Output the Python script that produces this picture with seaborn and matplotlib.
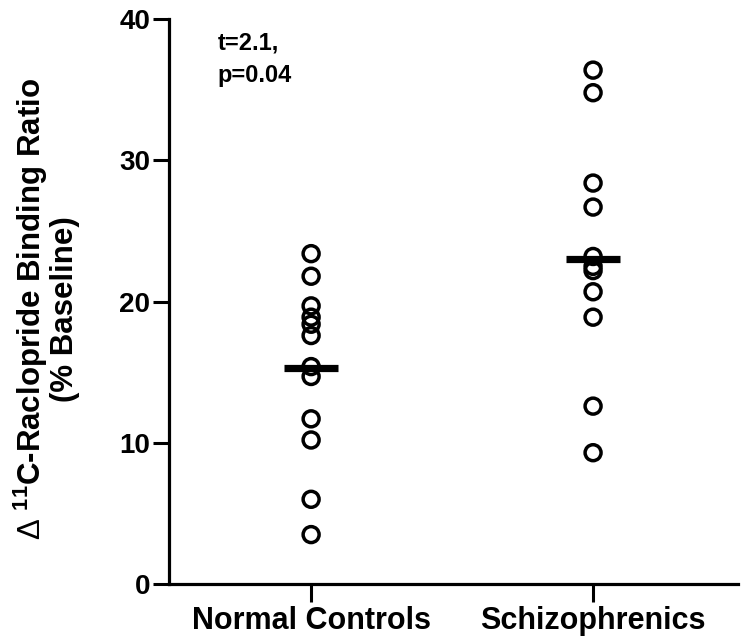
import matplotlib
matplotlib.use("Agg")
import matplotlib.pyplot as plt
import seaborn as sns
import pandas as pd

# ---- data ----
groups = ["Normal Controls", "Schizophrenics"]
normal_values = [23.4, 21.8, 19.7, 18.9, 18.4, 17.6, 15.4, 14.7, 11.7, 10.2, 6.0, 3.5]
schizo_values = [36.4, 34.8, 28.4, 26.7, 23.2, 22.5, 22.2, 20.7, 18.9, 12.6, 9.3]
group_means = [15.3, 23.0]
y_ticks = [0, 10, 20, 30, 40]
stat_lines = ["t=2.1,", "p=0.04"]
ylabel_lines = [r"$\Delta$ $^{\mathbf{11}}$C-Raclopride Binding Ratio", "(% Baseline)"]

df = pd.DataFrame({
    "group": [groups[0]] * len(normal_values) + [groups[1]] * len(schizo_values),
    "value": normal_values + schizo_values,
})

sns.set_style("ticks")
plt.rcParams["font.family"] = ["Liberation Sans", "DejaVu Sans"]
plt.rcParams["text.color"] = "black"
plt.rcParams["axes.labelcolor"] = "black"
plt.rcParams["mathtext.fontset"] = "custom"
plt.rcParams["mathtext.rm"] = "Liberation Sans"
plt.rcParams["mathtext.bf"] = "Liberation Sans:bold"
plt.rcParams["mathtext.it"] = "Liberation Sans:italic"

fig = plt.figure(figsize=(7.41, 6.39), dpi=100)
ax = fig.add_axes([169 / 741, 1 - 584 / 639, (738 - 169) / 741, (584 - 19.3) / 639])

sns.stripplot(data=df, x="group", y="value", order=groups, jitter=False,
              marker="o", size=11.5, color="black", linewidth=2.5,
              edgecolor="black", ax=ax, zorder=3)
for coll in ax.collections:
    coll.set_facecolor("none")
    coll.set_edgecolor("black")
    coll.set_linewidth(2.5)

half = 0.096
for i, m in enumerate(group_means):
    ax.hlines(m, i - half, i + half, colors="black", linewidth=5.2, zorder=4)

ax.set_xlim(-0.504, 1.514)
ax.set_ylim(0, 40)
ax.set_yticks(y_ticks)
ax.set_yticklabels([str(t) for t in y_ticks], fontsize=20, fontweight="bold", color="black")
ax.set_xticks(range(len(groups)))
ax.set_xticklabels(groups, fontsize=22, fontweight="bold", color="black")
ax.tick_params(axis="y", direction="out", length=11.5, width=2.2, pad=2, colors="black")
ax.tick_params(axis="x", direction="out", length=13, width=2.2, pad=3, colors="black")

for s in ["top", "right"]:
    ax.spines[s].set_visible(False)
for s in ["left", "bottom"]:
    ax.spines[s].set_linewidth(2.3)
    ax.spines[s].set_color("black")

ax.set_xlabel("")
ax.set_ylabel("\n".join(ylabel_lines), fontsize=22.5, fontweight="bold", color="black",
              linespacing=1.02, ha="center", va="center")
ax.yaxis.set_label_coords((46 - 169) / 569, 0.487)

ax.text(0.086, 0.978, "\n".join(stat_lines), transform=ax.transAxes, color="black",
        fontsize=17, fontweight="bold", va="top", ha="left", linespacing=1.5)

fig.savefig("out.png", dpi=100, facecolor="white")
